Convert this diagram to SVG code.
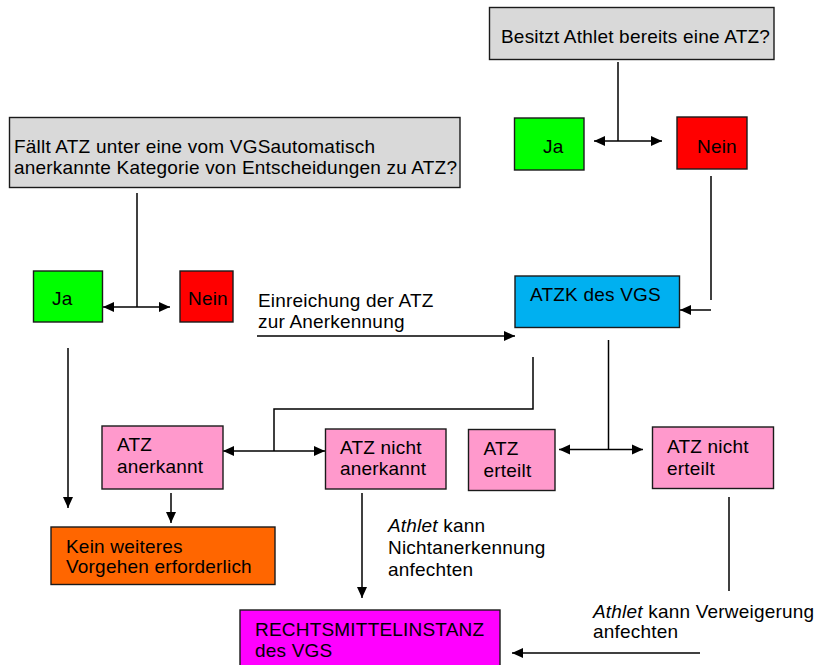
<svg xmlns="http://www.w3.org/2000/svg" width="821" height="665" viewBox="0 0 821 665">
<defs>
<style>
text{font-family:"Liberation Sans",Arial,sans-serif;font-size:19px;letter-spacing:0.2px;fill:#000}
.box{stroke:#1a1a1a;stroke-width:1.4}
.gray{fill:#d9d9d9}.green{fill:#00ff00}.red{fill:#ff0000}.blue{fill:#00b0f0}
.pink{fill:#ff99cc}.orange{fill:#ff6600}.magenta{fill:#ff00ff}
.ln{fill:none;stroke:#000;stroke-width:1.5}
.arr{marker-end:url(#ah)}
.dbl{marker-start:url(#ah);marker-end:url(#ah)}
</style>
<marker id="ah" markerUnits="userSpaceOnUse" markerWidth="11" markerHeight="11" viewBox="0 0 11 10" refX="11" refY="5" orient="auto-start-reverse">
<path d="M0,0 L11,5 L0,10 z" fill="#000"/>
</marker>
</defs>
<rect width="821" height="665" fill="#fff"/>
<g id="connectors">
<path class="ln" d="M618,62 V141"/>
<path class="ln dbl" d="M594,141 H662"/>
<path class="ln" d="M711,176 V300"/>
<path class="ln arr" d="M711,310 H680"/>
<path class="ln" d="M137,193 V307"/>
<path class="ln dbl" d="M103,307 H170"/>
<path class="ln arr" d="M257,336 H515"/>
<path class="ln" d="M533,357 V409 H274 V451"/>
<path class="ln dbl" d="M223,451 H325"/>
<path class="ln" d="M608.5,340 V449.5"/>
<path class="ln dbl" d="M559,449.5 H643"/>
<path class="ln arr" d="M68,348 V508"/>
<path class="ln arr" d="M171,493 V523"/>
<path class="ln arr" d="M362,493 V598"/>
<path class="ln" d="M729,497 V591"/>
<path class="ln arr" d="M700,653 H512"/>
</g>
<g id="q-besitzt"><rect class="box gray" x="489.5" y="7.5" width="284.5" height="52"/><text x="501" y="42.5">Besitzt Athlet bereits eine ATZ?</text></g>
<g id="ja-right"><rect class="box green" x="514.5" y="118" width="69.5" height="52"/><text x="543" y="153">Ja</text></g>
<g id="nein-right"><rect class="box red" x="677" y="117" width="70" height="52"/><text x="697" y="153">Nein</text></g>
<g id="q-faellt"><rect class="box gray" x="9.5" y="117.5" width="450.5" height="70"/><text x="14" y="153">Fällt ATZ unter eine vom VGSautomatisch</text><text x="14" y="174">anerkannte Kategorie von Entscheidungen zu ATZ?</text></g>
<g id="ja-left"><rect class="box green" x="33.5" y="271" width="69" height="51"/><text x="52" y="305">Ja</text></g>
<g id="nein-left"><rect class="box red" x="180" y="271" width="53" height="51"/><text x="188" y="305">Nein</text></g>
<g id="label-einreichung"><text x="258" y="306.5">Einreichung der ATZ</text><text x="258" y="328">zur Anerkennung</text></g>
<g id="atzk"><rect class="box blue" x="515" y="276" width="164.5" height="51.5"/><text x="530" y="301">ATZK des VGS</text></g>
<g id="atz-anerkannt"><rect class="box pink" x="102" y="426" width="121" height="63"/><text x="117" y="451">ATZ</text><text x="117" y="473">anerkannt</text></g>
<g id="atz-nicht-anerkannt"><rect class="box pink" x="325.5" y="429" width="120.5" height="60"/><text x="340" y="453.5">ATZ nicht</text><text x="340" y="475">anerkannt</text></g>
<g id="atz-erteilt"><rect class="box pink" x="468.5" y="429.5" width="86.5" height="61"/><text x="483.5" y="455">ATZ</text><text x="483.5" y="477">erteilt</text></g>
<g id="atz-nicht-erteilt"><rect class="box pink" x="652.5" y="427" width="121" height="61.5"/><text x="667" y="453">ATZ nicht</text><text x="667" y="474.5">erteilt</text></g>
<g id="kein-weiteres"><rect class="box orange" x="51" y="527" width="224" height="57.5"/><text x="66" y="553">Kein weiteres</text><text x="66" y="573">Vorgehen erforderlich</text></g>
<g id="label-nichtanerkennung"><text x="388" y="532"><tspan font-style="italic">Athlet</tspan> kann</text><text x="388" y="554">Nichtanerkennung</text><text x="388" y="576">anfechten</text></g>
<g id="rechtsmittel"><rect class="box magenta" x="240" y="610" width="260" height="62"/><text x="255" y="636">RECHTSMITTELINSTANZ</text><text x="255" y="657">des VGS</text></g>
<g id="label-verweigerung"><text x="593" y="618"><tspan font-style="italic">Athlet</tspan> kann Verweigerung</text><text x="593" y="638">anfechten</text></g>
</svg>
